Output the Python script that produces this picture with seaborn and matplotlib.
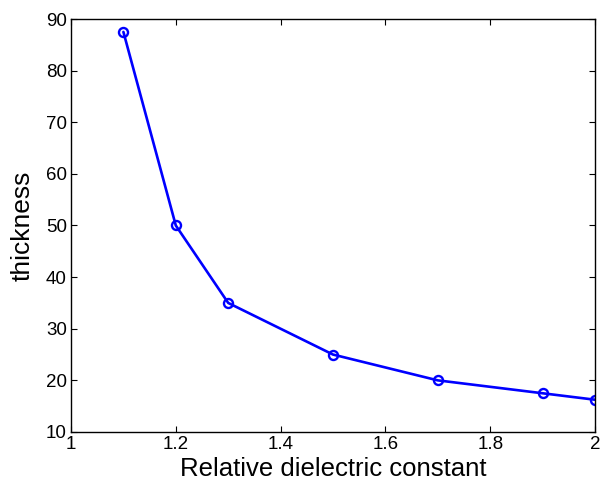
import matplotlib
matplotlib.use("Agg")
import matplotlib.pyplot as plt
import seaborn as sns
import pandas as pd

eps_r = [1.1, 1.2, 1.3, 1.5, 1.7, 1.9, 2.0]
thickness = [87.5, 50.0, 35.0, 25.0, 20.0, 17.5, 16.25]
x_ticks = [1, 1.2, 1.4, 1.6, 1.8, 2]
x_tick_labels = ["1", "1.2", "1.4", "1.6", "1.8", "2"]
y_ticks = [10, 20, 30, 40, 50, 60, 70, 80, 90]

sns.set_style("white")
plt.rcParams['font.family'] = ['Liberation Sans', 'DejaVu Sans']
plt.rcParams['text.color'] = 'black'
plt.rcParams['axes.labelcolor'] = 'black'

df = pd.DataFrame({"eps": eps_r, "t": thickness})

fig = plt.figure(figsize=(6.1, 4.9), dpi=100)
ax = fig.add_axes([0.1164, 0.1184, 0.859, 0.8428])
sns.lineplot(data=df, x="eps", y="t", ax=ax, color="#0000ff", linewidth=1.9,
             marker="o", markersize=6.5, markerfacecolor="none",
             markeredgecolor="#0000ff", markeredgewidth=1.7)
ax.set_xlim(1, 2)
ax.set_ylim(10, 90)
ax.set_xticks(x_ticks)
ax.set_xticklabels(x_tick_labels)
ax.set_yticks(y_ticks)
ax.tick_params(direction="in", length=4, width=0.8, labelsize=13.5,
               top=True, right=True, bottom=True, left=True, colors="black",
               labelcolor="black", pad=3)
for s in ax.spines.values():
    s.set_color("black")
    s.set_linewidth(1.0)
ax.set_xlabel("Relative dielectric constant", fontsize=18.5, labelpad=3, color="black")
ax.set_ylabel("thickness", fontsize=19, labelpad=8, color="black")
fig.savefig("out.png", dpi=100)
